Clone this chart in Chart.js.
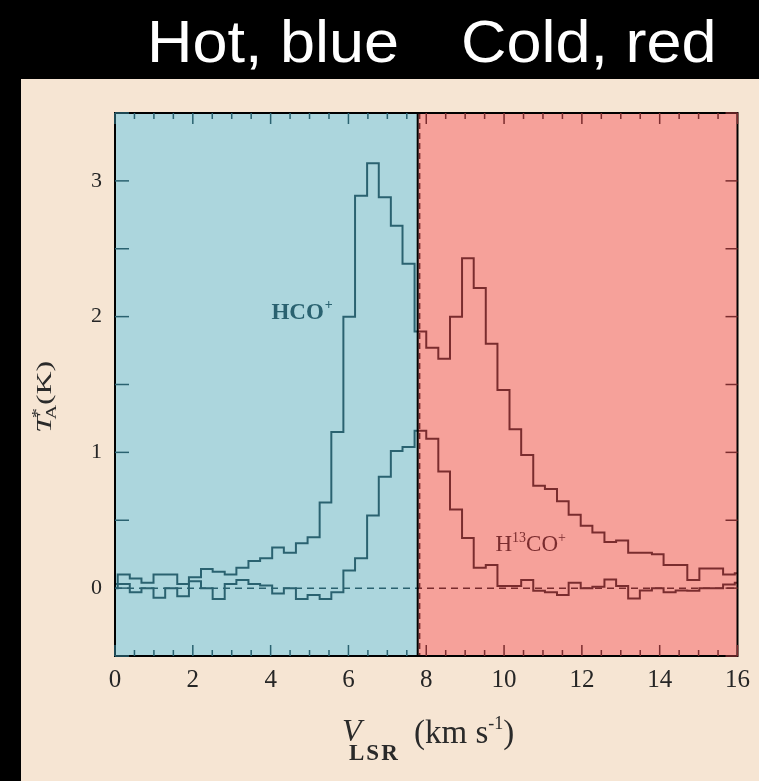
<!DOCTYPE html>
<html>
<head>
<meta charset="utf-8">
<script src="https://cdn.jsdelivr.net/npm/chart.js@4.4.0/dist/chart.umd.min.js"></script>
<style>
  html, body { margin: 0; padding: 0; background: #000; }
  #wrap { position: relative; width: 759px; height: 781px; }
</style>
</head>
<body>
<div id="wrap"><canvas id="spectrum"></canvas></div>
<script>
// channel left edges (km/s); the last value closes the final channel
var velocity = [0, 0.07, 0.38, 0.68, 0.99, 1.29, 1.60, 1.90, 2.21, 2.51, 2.82,
  3.12, 3.43, 3.73, 4.04, 4.34, 4.65, 4.95, 5.26, 5.56, 5.87,
  6.17, 6.48, 6.78, 7.09, 7.39, 7.70, 8.00, 8.31, 8.61, 8.92,
  9.22, 9.53, 9.83, 10.14, 10.44, 10.75, 11.05, 11.36, 11.66, 11.97,
  12.27, 12.58, 12.88, 13.19, 13.49, 13.80, 14.10, 14.41, 14.71, 15.02,
  15.32, 15.63, 15.93, 16];

var hcoValues = [0.03, 0.10, 0.07, 0.04, 0.10, 0.10, 0.03, 0.08, 0.14, 0.12, 0.10,
  0.15, 0.20, 0.22, 0.30, 0.26, 0.33, 0.375, 0.63, 1.15, 2.0,
  2.89, 3.13, 2.88, 2.67, 2.39, 1.89, 1.77, 1.69, 2.0, 2.43,
  2.21, 1.80, 1.46, 1.17, 0.98, 0.755, 0.73, 0.64, 0.54, 0.46,
  0.41, 0.34, 0.35, 0.26, 0.26, 0.25, 0.17, 0.17, 0.06, 0.145,
  0.145, 0.10, 0.11, 0.11];

var h13coValues = [0.0, 0.03, -0.03, 0.0, -0.07, 0.0, -0.06, 0.05, 0.0, -0.08, 0.03,
  0.06, 0.03, 0.02, -0.04, 0.0, -0.08, -0.05, -0.08, -0.03, 0.13,
  0.22, 0.535, 0.82, 1.01, 1.04, 1.16, 1.10, 0.86, 0.58, 0.37,
  0.15, 0.17, 0.015, 0.015, 0.06, -0.02, -0.03, -0.05, 0.04, 0.0,
  0.01, 0.064, 0.015, -0.076, -0.017, 0.0, -0.03, -0.017, -0.02, 0.0,
  0.0, 0.027, 0.04, 0.04];

var xTickValues = [0, 2, 4, 6, 8, 10, 12, 14, 16];
var yTickValues = [0, 1, 2, 3];

var splitVelocity = 7.78;   // hot / cold boundary
var systemicVelocity = 7.83; // dashed line

var teal = "#2a6270";
var maroon = "#7a2c2e";
var serif = "'Liberation Serif', 'Times New Roman', serif";

function toPoints(vals) {
  return velocity.map(function(v, i) { return { x: v, y: vals[i] }; });
}

// hard colour change at the split, so lines match the tinted halves
function splitColor(chart, left, right) {
  var a = chart.chartArea;
  if (!a) return left;
  var sx = chart.scales.x.getPixelForValue(splitVelocity);
  var f = (sx - a.left) / (a.right - a.left);
  var g = chart.ctx.createLinearGradient(a.left, 0, a.right, 0);
  g.addColorStop(0, left);
  g.addColorStop(f, left);
  g.addColorStop(f, right);
  g.addColorStop(1, right);
  return g;
}

var backdrop = {
  id: "backdrop",
  beforeDraw: function(chart) {
    var ctx = chart.ctx, a = chart.chartArea;
    var xs = chart.scales.x, ys = chart.scales.y;
    ctx.save();
    ctx.fillStyle = "#000";
    ctx.fillRect(0, 0, chart.width, chart.height);
    ctx.fillStyle = "#f6e5d3";
    ctx.fillRect(21, 79, chart.width - 21, chart.height - 79);

    ctx.fillStyle = "#fff";
    ctx.font = "60px 'Liberation Sans', Arial, sans-serif";
    ctx.textBaseline = "alphabetic";
    ctx.save();
    ctx.translate(147, 62);
    ctx.scale(1.05, 1);
    ctx.fillText("Hot, blue", 0, 0);
    ctx.restore();
    ctx.save();
    ctx.translate(461, 62);
    ctx.scale(1.05, 1);
    ctx.fillText("Cold, red", 0, 0);
    ctx.restore();

    var sx = xs.getPixelForValue(splitVelocity);
    ctx.fillStyle = "#acd6dd";
    ctx.fillRect(a.left, a.top, sx - a.left, a.bottom - a.top);
    ctx.fillStyle = "#f6a19a";
    ctx.fillRect(sx, a.top, a.right - sx, a.bottom - a.top);

    // zero level
    var zy = ys.getPixelForValue(0);
    ctx.setLineDash([7, 5]);
    ctx.lineWidth = 1.5;
    ctx.strokeStyle = splitColor(chart, teal, maroon);
    ctx.beginPath();
    ctx.moveTo(a.left, zy);
    ctx.lineTo(a.right, zy);
    ctx.stroke();
    ctx.restore();
  },
  afterDatasetsDraw: function(chart) {
    var ctx = chart.ctx, a = chart.chartArea;
    var xs = chart.scales.x, ys = chart.scales.y;
    ctx.save();

    var dx = xs.getPixelForValue(systemicVelocity);
    ctx.setLineDash([6, 4]);
    ctx.lineWidth = 1.5;
    ctx.strokeStyle = maroon;
    ctx.beginPath();
    ctx.moveTo(dx, a.top);
    ctx.lineTo(dx, a.bottom);
    ctx.stroke();
    ctx.setLineDash([]);

    ctx.lineWidth = 2;
    ctx.strokeStyle = "#000";
    var sx = xs.getPixelForValue(splitVelocity);
    ctx.beginPath();
    ctx.moveTo(sx, a.top);
    ctx.lineTo(sx, a.bottom);
    ctx.stroke();
    ctx.strokeRect(a.left, a.top, a.right - a.left, a.bottom - a.top);

    // inward ticks on all four sides
    ctx.lineWidth = 1.5;
    for (var v = 0; v <= 16; v += 0.5) {
      var px = xs.getPixelForValue(v);
      var len = (v % 2 === 0) ? 11 : 6;
      ctx.strokeStyle = v < splitVelocity ? teal : maroon;
      ctx.beginPath();
      ctx.moveTo(px, a.bottom);
      ctx.lineTo(px, a.bottom - len);
      ctx.moveTo(px, a.top);
      ctx.lineTo(px, a.top + len);
      ctx.stroke();
    }
    for (var w = -0.5; w <= 3.5; w += 0.5) {
      var py = ys.getPixelForValue(w);
      ctx.strokeStyle = teal;
      ctx.beginPath();
      ctx.moveTo(a.left, py);
      ctx.lineTo(a.left + 14, py);
      ctx.stroke();
      ctx.strokeStyle = maroon;
      ctx.beginPath();
      ctx.moveTo(a.right, py);
      ctx.lineTo(a.right - 12, py);
      ctx.stroke();
    }

    // line labels
    ctx.textBaseline = "alphabetic";
    ctx.fillStyle = teal;
    var hx = xs.getPixelForValue(4.02), hy = ys.getPixelForValue(1.98);
    ctx.font = "bold 23px " + serif;
    ctx.fillText("HCO", hx, hy);
    var hw = ctx.measureText("HCO").width;
    ctx.font = "bold 14px " + serif;
    ctx.fillText("+", hx + hw + 1, hy - 10);

    ctx.fillStyle = maroon;
    var kx = xs.getPixelForValue(9.78), ky = ys.getPixelForValue(0.27);
    ctx.font = "23px " + serif;
    ctx.fillText("H", kx, ky);
    var kw = ctx.measureText("H").width;
    ctx.font = "14px " + serif;
    ctx.fillText("13", kx + kw, ky - 9);
    kw += ctx.measureText("13").width;
    ctx.font = "23px " + serif;
    ctx.fillText("CO", kx + kw, ky);
    kw += ctx.measureText("CO").width;
    ctx.font = "14px " + serif;
    ctx.fillText("+", kx + kw, ky - 9);

    // axis titles
    ctx.fillStyle = "#2a2a2a";
    ctx.font = "italic 32px " + serif;
    ctx.fillText("V", 342, 741);
    ctx.font = "bold 23px " + serif;
    ctx.letterSpacing = "2px";
    ctx.fillText("LSR", 349, 760);
    ctx.letterSpacing = "0px";
    ctx.font = "33px " + serif;
    ctx.fillText("(km s", 414, 743);
    var tw = ctx.measureText("(km s").width;
    ctx.font = "18px " + serif;
    ctx.fillText("-1", 414 + tw, 729);
    var sw = ctx.measureText("-1").width;
    ctx.font = "33px " + serif;
    ctx.fillText(")", 414 + tw + sw, 743);

    ctx.translate(51, 433);
    ctx.rotate(-Math.PI / 2);
    ctx.scale(1.45, 1);
    ctx.font = "italic 22px " + serif;
    ctx.fillText("T", 0, 0);
    var t = ctx.measureText("T").width;
    ctx.font = "14px " + serif;
    ctx.fillText("*", t - 2, -9);
    ctx.fillText("A", t - 3, 5);
    ctx.font = "22px " + serif;
    ctx.fillText("(K)", t + 7, 0);
    ctx.restore();
  }
};

var ctx = document.getElementById("spectrum").getContext("2d");

var chart = new Chart(ctx, {
  type: "line",
  data: {
    datasets: [
      {
        label: "HCO+",
        data: toPoints(hcoValues),
        stepped: true,
        borderWidth: 2,
        pointRadius: 0,
        fill: false,
        borderColor: function(c) { return splitColor(c.chart, teal, maroon); }
      },
      {
        label: "H13CO+",
        data: toPoints(h13coValues),
        stepped: true,
        borderWidth: 2,
        pointRadius: 0,
        fill: false,
        borderColor: function(c) { return splitColor(c.chart, teal, maroon); }
      }
    ]
  },
  options: {
    responsive: true,
    maintainAspectRatio: false,
    animation: false,
    layout: { padding: { top: 113, right: 19, left: 0, bottom: 0 } },
    plugins: {
      legend: { display: false },
      tooltip: { enabled: false }
    },
    scales: {
      x: {
        type: "linear",
        min: 0,
        max: 16,
        grid: { display: false, drawTicks: false },
        border: { display: false },
        afterFit: function(s) { s.height = 125; },
        afterBuildTicks: function(s) {
          s.ticks = xTickValues.map(function(v) { return { value: v }; });
        },
        ticks: {
          padding: 9,
          maxRotation: 0,
          autoSkip: false,
          color: "#262626",
          font: { family: serif, size: 25 }
        }
      },
      y: {
        type: "linear",
        min: -0.5,
        max: 3.5,
        grid: { display: false, drawTicks: false },
        border: { display: false },
        afterFit: function(s) { s.width = 115; },
        afterBuildTicks: function(s) {
          s.ticks = yTickValues.map(function(v) { return { value: v }; });
        },
        ticks: {
          padding: 13,
          color: "#262626",
          font: { family: serif, size: 22 }
        }
      }
    }
  },
  plugins: [backdrop]
});
</script>
</body>
</html>
